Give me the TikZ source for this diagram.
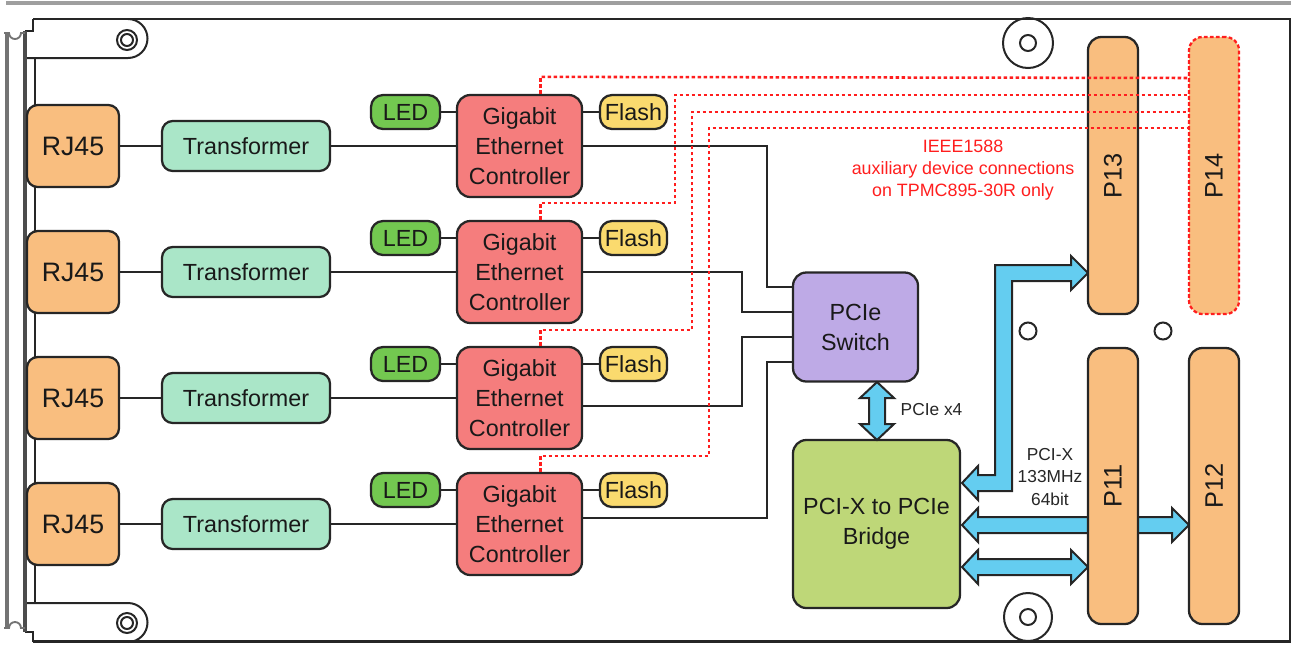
\documentclass[tikz,border=0pt]{standalone}
\usepackage{fontspec}
\setmainfont{Liberation Sans}
\usepackage{graphicx}
\usetikzlibrary{calc}
\definecolor{cOrange}{RGB}{249,190,127}
\definecolor{cMint}{RGB}{170,230,200}
\definecolor{cGreen}{RGB}{115,200,80}
\definecolor{cSalmon}{RGB}{245,125,125}
\definecolor{cYellow}{RGB}{250,218,110}
\definecolor{cLav}{RGB}{190,170,230}
\definecolor{cOlive}{RGB}{190,215,120}
\definecolor{cCyan}{RGB}{100,205,240}
\definecolor{cRed}{RGB}{255,30,30}
\newcommand\fsA{\fontsize{17.5}{22.5}\selectfont}
\newcommand\fsB{\fontsize{20}{24}\selectfont}
\newcommand\fsP{\fontsize{19}{23}\selectfont}
\newcommand\fsS{\fontsize{13}{17}\selectfont}
\newcommand\fsR{\fontsize{13.4}{16.5}\selectfont}
\begin{document}
\begin{tikzpicture}[x=0.75pt,y=-0.75pt,
  sz/.style 2 args={minimum width=#1*0.75pt, minimum height=#2*0.75pt},
  box/.style={draw=black!85, line width=1.7pt, rounded corners=8pt, inner sep=0pt, align=center, font=\fsA, text=black!90},
  conn/.style={draw=black!85, line width=1.6pt},
  rdash/.style={draw=cRed, line width=1.9pt, dash pattern=on 2.8pt off 1.7pt},
  fat/.style={fill=cCyan, draw=black!85, line width=1.5pt, line join=miter},
  outline/.style={draw=black!85, line width=1.5pt},
  panel/.style={draw=black!55, line width=2.4pt}]
\useasboundingbox (0,0) rectangle (1298,644);
% top gray rule
\draw[gray!75, line width=2.8pt] (6,3) -- (1291,3);
% board outline
\draw[outline, line width=2pt] (33,19) -- (1290,19) -- (1290,641.5) -- (33,641.5);
% handles
\draw[outline] (25,58) -- (128,58) arc[start angle=90, end angle=-90, radius=19.5];
\draw[outline] (25,603) -- (128,603) arc[start angle=-90, end angle=90, radius=19.5];
\draw[outline] (35,58) -- (35,603);
\draw[outline] (25,31) -- (33,31) -- (33,19);
\draw[outline] (25,632) -- (33,632) -- (33,641.5);
% front panel
\draw[panel] (7,34) -- (7,628);
\draw[panel, draw=black!70] (25,31) -- (25,632);
\draw[panel, line width=1.4pt] (4,33) -- (9,33) arc[start angle=180, end angle=0, radius=6] -- (25,33);
\draw[panel, line width=1.4pt] (4,628) -- (9,628) arc[start angle=180, end angle=360, radius=6] -- (25,628);
% screws and holes
\draw[outline] (127,40) circle[radius=10] (127,40) circle[radius=6];
\draw[outline] (127,623) circle[radius=10] (127,623) circle[radius=6];
\draw[outline] (1028,43) circle[radius=25] (1028,43) circle[radius=8];
\draw[outline] (1028,617) circle[radius=24] (1028,617) circle[radius=8];
\draw[outline] (1028,331) circle[radius=8.5];
\draw[outline] (1163,331) circle[radius=8.5];

% rows
\foreach \i/\c in {1/146,2/272,3/398,4/524}{
  \node[box, fill=cOrange, sz={92}{82}, font=\fsB] (RJ\i) at (73,\c) {RJ45};
  \node[box, fill=cMint, sz={168}{50}] (TR\i) at (246,\c) {Transformer};
  \node[box, fill=cGreen, sz={69}{34}, rounded corners=9pt] (LED\i) at (405.5,\c-34) {LED};
  \node[box, fill=cSalmon, sz={125}{102}, rounded corners=10pt] (GE\i) at (519.5,\c) {Gigabit\\Ethernet\\Controller};
  \node[box, fill=cYellow, sz={67}{34}, rounded corners=9pt] (FL\i) at (633.5,\c-34) {Flash};
  \draw[conn] (RJ\i) -- (TR\i);
  \draw[conn] (TR\i) -- (GE\i);
  \draw[conn] (LED\i) -- (LED\i -| GE\i.west);
  \draw[conn] (FL\i) -- (FL\i -| GE\i.east);
}

\node[box, fill=cLav, sz={125}{109}, rounded corners=10pt] (SW) at (855.5,327) {PCIe\\Switch};
\node[box, fill=cOlive, sz={167}{168}, rounded corners=10pt] (BR) at (876.5,524) {PCI-X to PCIe\\Bridge};

\coordinate (s1) at ($(SW.north west)+(0,16)$);
\coordinate (s2) at ($(SW.north west)+(0,41)$);
\coordinate (s3) at ($(SW.north west)+(0,66)$);
\coordinate (s4) at ($(SW.north west)+(0,91)$);
\draw[conn] (GE1.east) -| ($(s1)+(-25,0)$) -- (s1);
\draw[conn] (GE2.east) -| ($(s2)+(-50,0)$) -- (s2);
\draw[conn] ($(GE3.east)+(0,8)$) -| ($(s3)+(-50,0)$) -- (s3);
\draw[conn] ($(GE4.east)+(0,-6)$) -| ($(s4)+(-25,0)$) -- (s4);

% fat arrows
\draw[fat] (877,382) -- (894,398) -- (885,398) -- (885,424) -- (894,424) -- (877,440) -- (860,424) -- (869,424) -- (869,398) -- (860,398) -- cycle;
\draw[fat] (962,483) -- (978,466) -- (978,475) -- (995,475) -- (995,265) -- (1071,265) -- (1071,256) -- (1088,273) -- (1071,290) -- (1071,281) -- (1012,281) -- (1012,491) -- (978,491) -- (978,500) -- cycle;
\draw[fat] (962,525) -- (978,508) -- (978,517) -- (1172,517) -- (1172,508) -- (1189,525) -- (1172,542) -- (1172,533) -- (978,533) -- (978,542) -- cycle;
\draw[fat] (962,567) -- (978,550) -- (978,559) -- (1071,559) -- (1071,550) -- (1088,567) -- (1071,584) -- (1071,575) -- (978,575) -- (978,584) -- cycle;

\node[font=\fsS, text=black!85, anchor=west] (lx4) at (896,410) {PCIe x4};
\node[font=\fsS, text=black!85, align=center] (lpcix) at (1050,477) {PCI-X\\133MHz\\64bit};

% connectors P
\node[box, fill=cOrange, sz={50}{277}, rounded corners=10pt, font=\fsP] (P13) at (1113,175.5) {\rotatebox{90}{P13}};
\node[box, fill=cOrange, sz={50}{277}, rounded corners=10pt, font=\fsP, draw=cRed, dash pattern=on 2.8pt off 1.7pt] (P14) at (1214,175.5) {\rotatebox{90}{P14}};
\node[box, fill=cOrange, sz={50}{276}, rounded corners=10pt, font=\fsP] (P11) at (1113,486) {\rotatebox{90}{P11}};
\node[box, fill=cOrange, sz={50}{276}, rounded corners=10pt, font=\fsP] (P12) at (1214,486) {\rotatebox{90}{P12}};

% red dashed IEEE1588 lines
\coordinate (r1) at (0,78);
\coordinate (v2) at (675,95);
\coordinate (v3) at (692,112);
\coordinate (v4) at (709,128);
\draw[rdash] ($(GE1.north)+(21,0)$) -- ++(0,-17) -- (P14.west |- r1);
\draw[rdash] ($(GE2.north)+(21,0)$) -- ++(0,-17) -| (v2) -- (P14.west |- v2);
\draw[rdash] ($(GE3.north)+(21,0)$) -- ++(0,-16) -| (v3) -- (P14.west |- v3);
\draw[rdash] ($(GE4.north)+(21,0)$) -- ++(0,-16) -| (v4) -- (P14.west |- v4);

\node[font=\fsR, text=cRed, align=center] (ieee) at (963,170) {IEEE1588\\auxiliary device connections\\on TPMC895-30R only};
\end{tikzpicture}
\end{document}
